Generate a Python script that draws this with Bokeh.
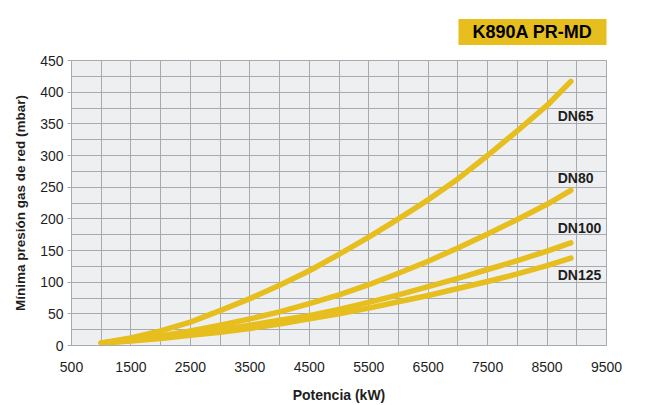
from bokeh.plotting import figure
from bokeh.models import Label, FixedTicker, Range1d
from bokeh.embed import file_html
from bokeh.resources import INLINE

# ---- data ----
potencia = [1000, 1500, 2000, 2500, 3000, 3500, 4000, 4500, 5000, 5500, 6000, 6500, 7000, 7500, 8000, 8500, 8900]
dn65 = [4, 12, 23, 37, 55, 74, 95, 118, 144, 171, 200, 230, 263, 300, 339, 379, 417]
dn80 = [4, 9, 15, 23, 32, 42, 53, 66, 80, 96, 114, 133, 154, 176, 199, 223, 245]
dn100 = [4, 8, 13, 19, 25, 32, 40, 47, 57, 68, 80, 93, 106, 120, 134, 149, 162]
dn125 = [4, 7, 11, 16, 21, 27, 34, 42, 50, 59, 69, 79, 90, 101, 113, 126, 138]
series_names = ["DN65", "DN80", "DN100", "DN125"]
label_y = [363, 264, 185, 112]
x_ticks = [500, 1500, 2500, 3500, 4500, 5500, 6500, 7500, 8500, 9500]
y_ticks = [0, 50, 100, 150, 200, 250, 300, 350, 400, 450]
x_grid = list(range(500, 10000, 500))
y_grid = list(range(0, 475, 25))
title_text = "K890A PR-MD"
x_title = "Potencia (kW)"
y_title = "Mínima presión gas de red (mbar)"

YELLOW = "#E6BE1E"
GRID = "#A7AAAF"
TXT = "#1E1E1E"

p = figure(width=640, height=405, output_backend="svg", toolbar_location=None,
           x_range=Range1d(500, 9500), y_range=Range1d(0, 450),
           min_border_left=71, min_border_right=34, min_border_top=60, min_border_bottom=60)
p.background_fill_color = "#EEEFF1"
p.border_fill_color = "white"
p.outline_line_color = GRID
p.outline_line_width = 1

p.title.text = title_text
p.title.align = "right"
p.title.text_font = "Liberation Sans"
p.title.text_font_style = "bold"
p.title.text_font_size = "18px"
p.title.text_color = "black"
p.title.background_fill_color = YELLOW
p.title.padding = (14, 3)
p.title.standoff = 31
p.title.offset = 0

p.xgrid.ticker = FixedTicker(ticks=x_grid)
p.ygrid.ticker = FixedTicker(ticks=y_grid)
for g in (p.xgrid, p.ygrid):
    g.grid_line_color = GRID
    g.grid_line_width = 1

p.xaxis.ticker = FixedTicker(ticks=x_ticks)
p.yaxis.ticker = FixedTicker(ticks=y_ticks)
for ax in (p.xaxis, p.yaxis):
    ax.axis_line_color = GRID
    ax.major_tick_line_color = GRID
    ax.minor_tick_line_color = None
    ax.major_label_text_font = "Liberation Sans"
    ax.major_label_text_font_size = "14px"
    ax.major_label_text_color = TXT
    ax.axis_label_text_font = "Liberation Sans"
    ax.axis_label_text_font_style = "bold"
    ax.axis_label_text_color = TXT
p.xaxis.major_tick_out = 0
p.xaxis.major_tick_in = 0
p.xaxis.major_label_standoff = 16
p.yaxis.major_tick_out = 4
p.yaxis.major_tick_in = 0
p.yaxis.major_label_standoff = 4

p.xaxis.axis_label = x_title
p.xaxis.axis_label_text_font_size = "14px"
p.xaxis.axis_label_standoff = 12
p.yaxis.axis_label = y_title
p.yaxis.axis_label_text_font_size = "13.5px"
p.yaxis.axis_label_standoff = 9

for ys in (dn125, dn100, dn80, dn65):
    p.line(potencia, ys, line_color=YELLOW, line_width=5.5, line_cap="round", line_join="round")

for name, ly in zip(series_names, label_y):
    p.add_layout(Label(x=8680, y=ly, text=name, text_font="Liberation Sans", text_font_style="bold",
                       text_font_size="14px", text_color=TXT, text_align="left", text_baseline="middle"))

open("out.html", "w").write(file_html(p, INLINE))
